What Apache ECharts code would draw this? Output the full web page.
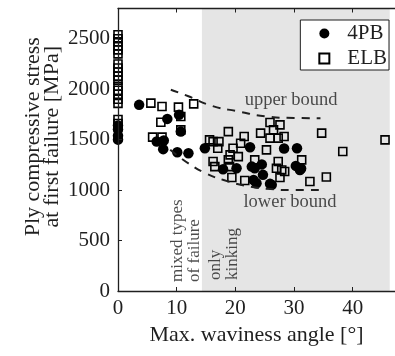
<!DOCTYPE html>
<html>
<head>
    <meta charset="utf-8">
    <title>Ply compressive stress vs waviness</title>
    <script src="https://cdn.jsdelivr.net/npm/echarts@6/dist/echarts.min.js"></script>
    <style>
        html, body { margin: 0; padding: 0; background: #fff; }
    </style>
</head>
<body>
    <div id="main" style="width: 395px;height:356px;"></div>
    <script type="text/javascript">
    // 4PB tests (filled circles): [max waviness angle, stress]
    var pb4 = [
        [0, 1640], [0, 1600], [0, 1540], [0, 1500],
        [3.6, 1845], [8.4, 1706], [10.4, 1746], [10.7, 1580],
        [6.6, 1481], [7.8, 1491], [7.7, 1406], [10.1, 1376], [12.0, 1366],
        [14.8, 1415], [22.5, 1425], [17.9, 1207], [20.2, 1217],
        [22.8, 1233], [23.3, 1217], [24.5, 1255], [24.7, 1151],
        [23.1, 1101], [23.6, 1068], [25.9, 1062], [26.2, 1052],
        [28.3, 1412], [30.5, 1415], [30.3, 1240], [31.2, 1215], [31.0, 1200]
    ];

    // ELB tests (open squares)
    var elb = [
        [0, 2540], [0, 2500], [0, 2470], [0, 2430], [0, 2390], [0, 2350],
        [0, 2250], [0, 2210], [0, 2170], [0, 2130], [0, 2090],
        [0, 2030], [0, 1990], [0, 1950], [0, 1900], [0, 1860],
        [0, 1700], [0, 1660],
        [5.6, 1862], [7.5, 1829], [10.3, 1822], [12.9, 1855],
        [7.3, 1673], [10.7, 1729], [10.7, 1597], [5.9, 1525], [7.5, 1525],
        [15.6, 1498], [16.2, 1481], [17.2, 1481], [18.8, 1580], [21.5, 1531],
        [17.0, 1415], [19.6, 1415], [20.9, 1465], [19.1, 1349], [20.5, 1332],
        [16.2, 1283], [16.5, 1233], [18.8, 1300], [19.0, 1233],
        [19.4, 1125], [21.6, 1095], [23.3, 1300],
        [24.3, 1565], [25.9, 1670], [27.6, 1647], [25.9, 1515], [25.3, 1399], [27.3, 1515],
        [26.5, 1597], [28.3, 1531],
        [27.3, 1283], [27.0, 1217], [27.9, 1200], [28.4, 1184], [27.6, 1125],
        [31.3, 1300], [34.7, 1565], [38.3, 1382], [45.5, 1498],
        [32.7, 1085], [35.5, 1130]
    ];

    // dashed envelope curves
    var upperBound = [[9, 1995], [12, 1930], [16, 1835], [20.5, 1780], [25, 1732], [30, 1715], [34.5, 1713]];
    var lowerBound = [[8.9, 1400], [12, 1265], [15, 1165], [18, 1100], [22, 1040], [26, 1010], [30, 1000], [35, 1000]];

    // shaded "only kinking" range of the angle
    var kinkingRange = [14.3, 46.3];

    // annotations
    var noteText = ['upper bound', 'lower bound', 'mixed types\nof failure', 'only\nkinking'];
    var noteX = [29.5, 29.3, 11.6, 18.1];
    var noteY = [1895, 885, 90, 110];
    var noteRotate = [0, 0, 90, 90];

    var xTicks = { min: 0, max: 47.2, interval: 10 };
    var yTicks = { min: 0, max: 2800, interval: 500 };

    var ink = '#1f1f1f';
    var serif = 'Liberation Serif';

    var myChart = echarts.init(document.getElementById('main'));

    var notes = noteText.map(function (t, i) {
        var rotated = noteRotate[i] !== 0;
        return {
            value: [noteX[i], noteY[i]],
            label: {
                show: true,
                formatter: t,
                position: 'inside',
                rotate: noteRotate[i],
                align: rotated ? 'left' : 'center',
                verticalAlign: 'middle',
                fontFamily: serif,
                fontSize: rotated ? 17 : 18.5,
                lineHeight: 17,
                color: ink
            }
        };
    });

    function plain(v) { return String(v); }

    var option = {
        animation: false,
        backgroundColor: '#fff',
        grid: { left: 118, right: 0, top: 8.5, bottom: 65, outerBoundsMode: 'none' },
        legend: {
            right: 6,
            top: 20,
            orient: 'vertical',
            data: [
                { name: '4PB', icon: 'circle' },
                { name: 'ELB', icon: 'rect' }
            ],
            itemWidth: 10,
            itemHeight: 10,
            itemGap: 4,
            padding: [3, 2, 1, 18],
            backgroundColor: '#fff',
            borderColor: ink,
            borderWidth: 1,
            borderRadius: 0,
            textStyle: {
                fontFamily: serif, fontSize: 21, color: ink,
                lineHeight: 20, padding: [0, 0, 0, 13]
            }
        },
        xAxis: [{
            type: 'value',
            min: xTicks.min, max: xTicks.max, interval: xTicks.interval,
            name: 'Max. waviness angle [°]',
            nameLocation: 'middle',
            nameGap: 33,
            nameMoveOverlap: false,
            nameTextStyle: { fontFamily: serif, fontSize: 22, color: ink },
            z: 10,
            splitLine: { show: false },
            axisLine: { show: true, lineStyle: { color: ink, width: 1.3 } },
            axisTick: { inside: true, length: 4, lineStyle: { color: ink } },
            axisLabel: { fontFamily: serif, fontSize: 21, color: ink, margin: 7, showMaxLabel: false, formatter: plain }
        }, {
            type: 'value',
            position: 'top',
            min: xTicks.min, max: xTicks.max, interval: xTicks.interval,
            z: 10,
            splitLine: { show: false },
            axisLine: { show: true, lineStyle: { color: ink, width: 1.3 } },
            axisTick: { inside: true, length: 4, lineStyle: { color: ink } },
            axisLabel: { show: false }
        }],
        yAxis: {
            type: 'value',
            min: yTicks.min, max: yTicks.max, interval: yTicks.interval,
            name: 'Ply compressive stress\nat first failure [MPa]',
            nameLocation: 'middle',
            nameRotate: 90,
            nameGap: 56,
            nameMoveOverlap: false,
            nameTextStyle: {
                fontFamily: serif, fontSize: 22, color: ink,
                lineHeight: 19, padding: [0, 0, 0, 26]
            },
            z: 10,
            splitLine: { show: false },
            axisLine: { show: true, lineStyle: { color: ink, width: 1.3 } },
            axisTick: { inside: true, length: 4, lineStyle: { color: ink } },
            axisLabel: { fontFamily: serif, fontSize: 21, color: ink, margin: 8, showMaxLabel: false, formatter: plain }
        },
        series: [{
            name: 'shade',
            type: 'line',
            data: [],
            silent: true,
            markArea: {
                silent: true,
                itemStyle: { color: '#e5e5e5' },
                data: [[{ xAxis: kinkingRange[0] }, { xAxis: kinkingRange[1] }]]
            }
        }, {
            name: 'upper bound',
            type: 'line',
            data: upperBound,
            smooth: true,
            showSymbol: false,
            silent: true,
            lineStyle: { color: ink, width: 2, type: [8, 7] }
        }, {
            name: 'lower bound',
            type: 'line',
            data: lowerBound,
            smooth: true,
            showSymbol: false,
            silent: true,
            lineStyle: { color: ink, width: 2, type: [8, 7] }
        }, {
            name: '4PB',
            type: 'scatter',
            data: pb4,
            clip: false,
            symbol: 'circle',
            symbolSize: 10.5,
            itemStyle: { color: '#000', opacity: 1 }
        }, {
            name: 'ELB',
            type: 'scatter',
            data: elb,
            clip: false,
            symbol: 'rect',
            symbolSize: 8,
            itemStyle: { color: 'rgba(0,0,0,0)', borderColor: '#000', borderWidth: 1.6, opacity: 1 }
        }, {
            name: 'notes',
            type: 'scatter',
            data: notes,
            symbolSize: 0,
            silent: true,
            clip: false
        }]
    };

    myChart.setOption(option);
    </script>
</body>
</html>
